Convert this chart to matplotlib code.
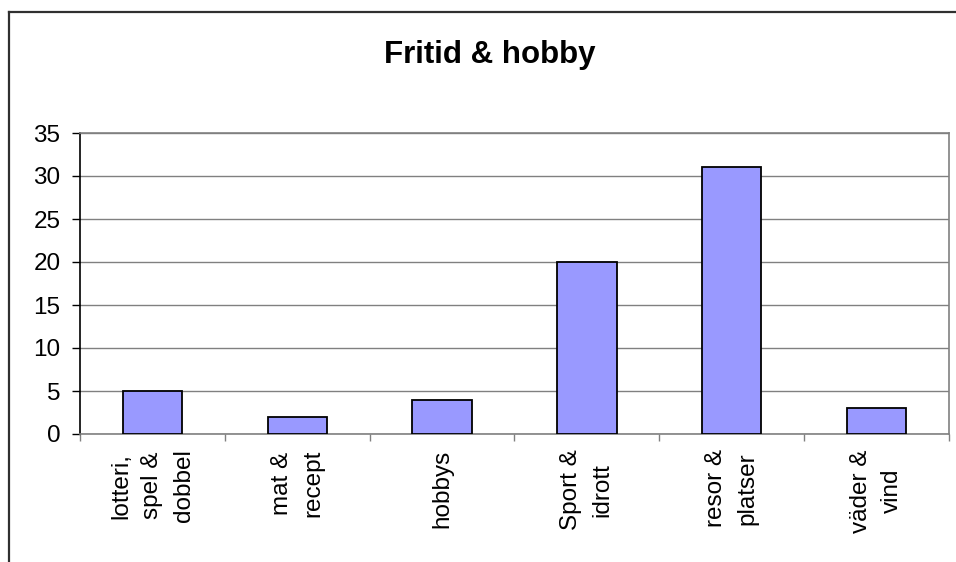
import matplotlib
matplotlib.use("Agg")
import matplotlib.pyplot as plt
from matplotlib.lines import Line2D
import numpy as np

plt.rcParams['font.family'] = ['Liberation Sans', 'DejaVu Sans']

categories = ["lotteri,\nspel &\ndobbel", "mat &\nrecept", "hobbys",
              "Sport &\nidrott", "resor &\nplatser", "väder &\nvind"]
counts = [5, 2, 4, 20, 31, 3]
y_ticks = [0, 5, 10, 15, 20, 25, 30, 35]

W, H = 956, 562
fig = plt.figure(figsize=(W / 100, H / 100), dpi=100)

# outer chart frame (only top and left edges fall inside the canvas)
frame_kw = dict(color='#303030', linewidth=1.6, transform=fig.transFigure)
fig.add_artist(Line2D([8.5 / W, 1.01], [1 - 11.5 / H, 1 - 11.5 / H], **frame_kw))
fig.add_artist(Line2D([8.5 / W, 8.5 / W], [1 - 11.5 / H, -0.01], **frame_kw))

left, right, top, bottom = 80, 949, 133, 434
ax = fig.add_axes([left / W, 1 - bottom / H, (right - left) / W, (bottom - top) / H])

x = np.arange(len(categories))
ax.bar(x, counts, width=0.41, color='#9999FF', edgecolor='black', linewidth=1.3, zorder=3)

ax.set_xlim(-0.5, len(categories) - 0.5)
ax.set_ylim(0, 35)
ax.set_yticks(y_ticks)
ax.yaxis.grid(True, color='#808080', linewidth=1.0, zorder=0)
ax.tick_params(axis='y', direction='out', length=6, width=1, pad=8, labelsize=17.5)

# category boundaries carry the tick marks, centres carry the labels
ax.set_xticks(np.arange(len(categories) + 1) - 0.5)
ax.set_xticklabels([])
ax.tick_params(axis='x', which='major', direction='out', length=5, width=1, color='#808080')
ax.set_xticks(x, minor=True)
labels = ax.set_xticklabels(categories, minor=True, rotation=90, ha='center', va='top',
                            multialignment='center', fontsize=17.5)
for lab in labels:
    lab.set_linespacing(1.55)
ax.tick_params(axis='x', which='minor', length=0, pad=11)

ax.spines['left'].set_color('black')
ax.spines['left'].set_linewidth(1.2)
for side in ('top', 'right', 'bottom'):
    ax.spines[side].set_color('#808080')
    ax.spines[side].set_linewidth(1.2)

fig.text(489.5 / W, 1 - 55 / H, "Fritid & hobby", ha='center', va='center',
         fontsize=22.5, fontweight='bold')

fig.savefig("out.png", dpi=100)
